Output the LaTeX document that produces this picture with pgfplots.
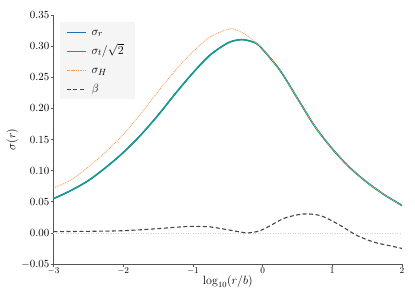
\documentclass[border=0pt]{standalone}
\usepackage{pgfplots}
\pgfplotsset{compat=1.18}
\usepackage{pgfplotstable}

\definecolor{cblue}{HTML}{1F6FB4}
\definecolor{cgreen}{HTML}{12A083}
\definecolor{corange}{HTML}{F39D55}
\definecolor{cgray}{HTML}{444444}
\definecolor{spine}{HTML}{555555}

\pgfplotstableread{
x y
-3.00 0.055
-2.75 0.068
-2.50 0.084
-2.25 0.105
-2.00 0.129
-1.75 0.157
-1.50 0.189
-1.25 0.224
-1.00 0.257
-0.75 0.286
-0.50 0.305
-0.35 0.310
-0.25 0.310
-0.10 0.305
0.00 0.295
0.25 0.261
0.50 0.216
0.75 0.171
1.00 0.135
1.25 0.105
1.50 0.081
1.75 0.061
2.00 0.044
}\sigrtab

\pgfplotstableread{
x y
-3.00 0.072
-2.75 0.085
-2.50 0.106
-2.25 0.130
-2.00 0.158
-1.75 0.191
-1.50 0.227
-1.25 0.261
-1.00 0.291
-0.75 0.315
-0.50 0.327
-0.40 0.327
-0.25 0.319
-0.10 0.306
0.00 0.296
0.25 0.261
0.50 0.216
0.75 0.171
1.00 0.135
1.25 0.105
1.50 0.081
1.75 0.061
2.00 0.044
}\sigHtab

\pgfplotstableread{
x y
-3.00 0.002
-2.50 0.0025
-2.00 0.0035
-1.50 0.0068
-1.25 0.009
-1.00 0.0105
-0.75 0.0095
-0.50 0.005
-0.30 0.001
-0.20 0.000
-0.05 0.003
0.10 0.011
0.30 0.023
0.50 0.029
0.65 0.0305
0.85 0.027
1.10 0.013
1.35 -0.004
1.60 -0.015
1.80 -0.020
2.00 -0.025
}\betatab

\begin{document}
\begin{tikzpicture}
\useasboundingbox (-53.5bp,-37bp) rectangle (361.5bp,264bp);
\begin{axis}[
  scale only axis,
  width=348.5bp, height=249bp,
  xmin=-3, xmax=2, ymin=-0.05, ymax=0.35,
  axis x line*=bottom, axis y line*=left,
  axis line style={-, draw=spine, line width=0.8pt},
  tick align=outside, major tick length=2.5bp,
  tick style={draw=spine, line width=0.6pt},
  xtick={-3,-2,-1,0,1,2},
  ytick={-0.05,0,0.05,0.1,0.15,0.2,0.25,0.3,0.35},
  yticklabel style={/pgf/number format/fixed, /pgf/number format/fixed zerofill, /pgf/number format/precision=2, font=\fontsize{10.5}{12}\selectfont, inner xsep=1.5bp},
  xticklabel style={font=\fontsize{9}{10}\selectfont, inner ysep=1.5bp},
  xlabel={$\log_{10}(r/b)$},
  ylabel={$\sigma(r)$},
  xlabel style={font=\fontsize{12}{14}\selectfont, at={(axis description cs:0.5,-0.07)}, anchor=center},
  ylabel style={font=\fontsize{12}{14}\selectfont, at={(axis description cs:-0.118,0.5)}, anchor=center},
  legend style={at={(axis description cs:0.019,0.972)}, anchor=north west, fill=black!4, draw=none,
    font=\fontsize{13}{15}\selectfont, row sep=5bp, inner xsep=6bp, inner ysep=3bp,
    nodes={inner xsep=5bp, inner ysep=1bp, text height=9bp, text depth=3bp}},
  legend cell align=left,
  legend image code/.code={\draw[#1, line width=1.2pt] plot coordinates {(0bp,0bp) (19bp,0bp)};},
  clip=false,
]
\addplot[forget plot, gray!35, dotted, line width=0.5pt] coordinates {(-3,0) (2,0)};
\addplot[cblue, line width=1.5pt, smooth] table {\sigrtab};
\addlegendentry{$\sigma_r$}
\addplot[cgreen, line width=1.3pt, smooth] table {\sigrtab};
\addlegendentry{$\sigma_t/\sqrt{2}$}
\addplot[corange, line width=0.8pt, dash pattern=on 0.9bp off 0.9bp, smooth] table {\sigHtab};
\addlegendentry{$\sigma_H$}
\addplot[cgray, line width=1.1pt, dash pattern=on 4bp off 2.5bp, smooth] table {\betatab};
\addlegendentry{$\beta$}
\end{axis}
\end{tikzpicture}
\end{document}
